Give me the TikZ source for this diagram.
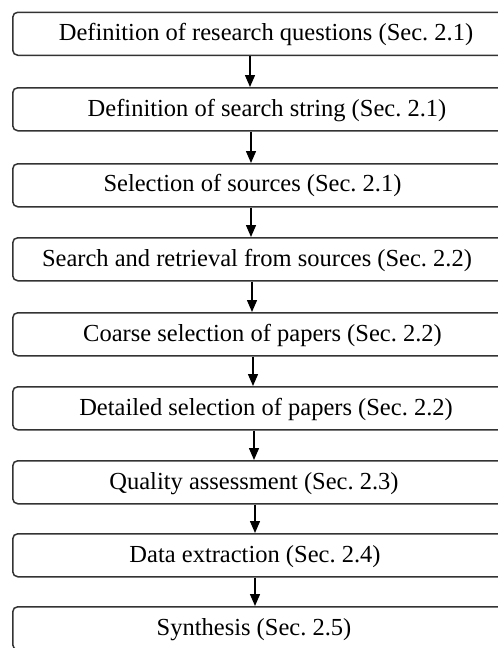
\documentclass[tikz,border=0pt]{standalone}
\usepackage{fontspec}
\setmainfont{Liberation Serif}
\usetikzlibrary{arrows.meta}
\frenchspacing
\begin{document}
\begin{tikzpicture}[x=1pt,y=-1pt,
  stepbox/.style={draw=black!80,line width=1.5pt,rounded corners=5pt,minimum width=510pt,minimum height=43pt,inner sep=0pt,anchor=north west},
  steptext/.style={font=\fontsize{24.5}{26}\selectfont,anchor=base,inner sep=0pt},
  arr/.style={line width=1.4pt,-{Triangle[length=12pt,width=10pt]}}]
\useasboundingbox (0,0) rectangle (498,648);
\clip (0,0) rectangle (498,648);
\node[stepbox] (b1) at (12,11.5) {};
\node[stepbox] (b2) at (12,87) {};
\node[stepbox] (b3) at (12,163) {};
\node[stepbox] (b4) at (12,237) {};
\node[stepbox] (b5) at (12,312) {};
\node[stepbox] (b6) at (12,386) {};
\node[stepbox] (b7) at (12,460) {};
\node[stepbox] (b8) at (12,533) {};
\node[stepbox] (b9) at (12,606) {};
\node[steptext] (t1) at (266,40.5) {Definition of research questions (Sec. 2.1)};
\node[steptext] (t2) at (267,116) {Definition of search string (Sec. 2.1)};
\node[steptext] (t3) at (252.5,191.5) {Selection of sources (Sec. 2.1)};
\node[steptext] (t4) at (257,266) {Search and retrieval from sources (Sec. 2.2)};
\node[steptext] (t5) at (262.5,341) {Coarse selection of papers (Sec. 2.2)};
\node[steptext] (t6) at (266,415) {Detailed selection of papers (Sec. 2.2)};
\node[steptext] (t7) at (254,489) {Quality assessment (Sec. 2.3)};
\node[steptext] (t8) at (255,562) {Data extraction (Sec. 2.4)};
\node[steptext] (t9) at (254,635) {Synthesis (Sec. 2.5)};
\draw[arr] (b1.south -| 250,0) -- (b2.north -| 250,0);
\draw[arr] (b2.south -| 251,0) -- (b3.north -| 251,0);
\draw[arr] (b3.south -| 251,0) -- (b4.north -| 251,0);
\draw[arr] (b4.south -| 252,0) -- (b5.north -| 252,0);
\draw[arr] (b5.south -| 253,0) -- (b6.north -| 253,0);
\draw[arr] (b6.south -| 254,0) -- (b7.north -| 254,0);
\draw[arr] (b7.south -| 255,0) -- (b8.north -| 255,0);
\draw[arr] (b8.south -| 255,0) -- (b9.north -| 255,0);
\end{tikzpicture}
\end{document}
